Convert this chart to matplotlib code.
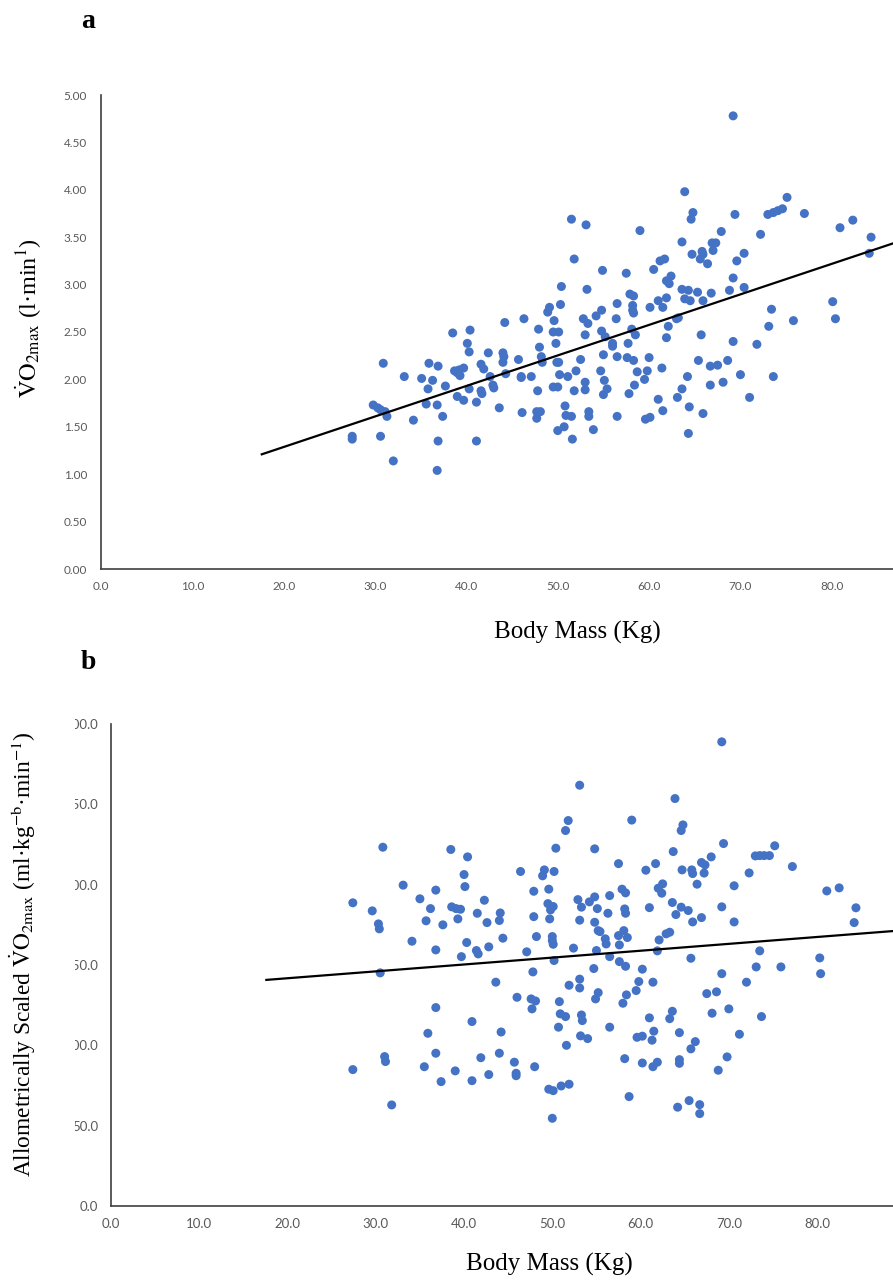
import numpy as np
import matplotlib
matplotlib.use("Agg")
import matplotlib.pyplot as plt
from matplotlib.patches import Rectangle

plt.rcParams['mathtext.fontset'] = 'stix'

# panel a: body mass (kg) vs absolute VO2max (l/min)
mass_a = [69.2, 63.9, 64.8, 64.6, 69.4, 75.1, 73.0, 73.6, 74.1, 74.6, 77.0, 80.9, 82.3, 84.3, 84.1,
          72.2, 67.9, 66.9, 67.3, 67.0, 65.8, 65.9, 65.6, 64.7, 66.4, 63.6, 70.4, 69.6, 69.2, 68.8,
          70.4, 66.8, 65.3, 65.9, 63.6, 64.3, 63.9, 64.5, 62.4, 61.9, 62.2, 61.9, 61.2, 61.7, 60.5,
          59.0, 57.5, 54.9, 53.1, 53.2, 57.9, 58.3, 56.5, 54.8, 54.2, 52.8, 53.3, 58.2, 58.2, 58.3,
          56.4, 60.1, 61.0, 61.5, 63.0, 63.2, 62.1, 65.7, 69.2, 71.8, 73.1, 73.4, 75.8, 80.1, 80.4,
          54.8, 55.2, 56.0, 56.0, 57.7, 58.1, 58.5, 53.0, 61.9,
          55.0, 56.5, 57.6, 58.3, 60.0, 61.4, 59.8, 58.7, 59.5, 58.4, 57.8, 54.7, 55.1, 53.0, 53.0,
          55.4, 55.0, 52.5, 65.4, 66.7, 67.5, 68.6, 64.2, 63.6, 63.1, 66.7, 68.1, 70.0, 71.0, 73.6,
          61.0, 61.5, 64.4, 65.9, 64.3, 59.6, 60.1, 56.5, 53.4, 53.4, 53.9,
          51.5, 51.8, 50.4, 50.3, 49.1, 48.9, 49.6, 46.3, 44.2, 47.9, 49.5, 50.1, 49.8, 40.4, 38.5,
          40.1, 48.0,
          40.3, 30.9, 33.2, 35.1, 36.3, 35.9, 36.9, 35.8, 37.7, 38.7, 39.2, 39.7, 39.3, 39.0, 41.6,
          41.9, 42.4, 44.0, 44.1, 44.0, 45.7, 48.2, 48.3, 44.3, 42.6, 42.9, 43.0, 40.3, 41.6, 41.7,
          39.0, 39.7, 41.1, 46.0, 46.0, 47.1, 47.8, 49.9, 50.1, 50.2, 51.1, 52.0, 51.8, 49.5, 50.0,
          43.6, 46.1, 47.7, 48.1, 47.7, 50.8, 50.9, 51.5, 50.7, 50.0, 51.6, 35.6, 36.8, 37.4, 34.2,
          29.8, 30.3, 30.6, 31.1, 31.3, 27.5, 27.5, 30.6, 32.0, 36.9, 36.8, 41.1]
vo2_a = [4.78, 3.98, 3.76, 3.69, 3.74, 3.92, 3.74, 3.76, 3.78, 3.80, 3.75, 3.60, 3.68, 3.50, 3.33,
         3.53, 3.56, 3.44, 3.44, 3.36, 3.35, 3.32, 3.27, 3.32, 3.22, 3.45, 3.33, 3.25, 3.07, 2.94,
         2.97, 2.91, 2.92, 2.83, 2.95, 2.94, 2.85, 2.83, 3.09, 3.04, 3.01, 2.86, 3.25, 3.27, 3.16,
         3.57, 3.12, 3.15, 3.63, 2.95, 2.90, 2.88, 2.80, 2.73, 2.67, 2.64, 2.59, 2.78, 2.73, 2.70,
         2.64, 2.76, 2.83, 2.76, 2.64, 2.65, 2.56, 2.47, 2.40, 2.37, 2.56, 2.74, 2.62, 2.82, 2.64,
         2.51, 2.45, 2.38, 2.35, 2.38, 2.53, 2.47, 2.47, 2.44,
         2.26, 2.24, 2.23, 2.20, 2.23, 2.12, 2.09, 2.08, 2.00, 1.94, 1.85, 2.09, 1.99, 1.97, 1.89,
         1.90, 1.84, 2.21, 2.20, 2.14, 2.15, 2.20, 2.03, 1.90, 1.81, 1.94, 1.97, 2.05, 1.81, 2.03,
         1.79, 1.67, 1.71, 1.64, 1.43, 1.58, 1.60, 1.61, 1.66, 1.61, 1.47,
         3.69, 3.27, 2.98, 2.79, 2.76, 2.71, 2.62, 2.64, 2.60, 2.53, 2.50, 2.50, 2.38, 2.52, 2.49,
         2.38, 2.34,
         2.29, 2.17, 2.03, 2.01, 1.99, 2.17, 2.14, 1.90, 1.93, 2.09, 2.10, 2.12, 2.04, 2.07, 2.16,
         2.11, 2.28, 2.28, 2.24, 2.18, 2.21, 2.24, 2.18, 2.06, 2.03, 1.94, 1.91, 1.90, 1.88, 1.85,
         1.82, 1.78, 1.76, 2.03, 2.02, 2.03, 1.88, 2.18, 2.18, 2.05, 2.03, 2.09, 1.88, 1.92, 1.92,
         1.70, 1.65, 1.66, 1.66, 1.59, 1.72, 1.62, 1.61, 1.50, 1.46, 1.37, 1.74, 1.73, 1.61, 1.57,
         1.73, 1.70, 1.68, 1.66, 1.61, 1.40, 1.37, 1.40, 1.14, 1.35, 1.04, 1.35]

# panel b: body mass (kg) vs allometrically scaled VO2max
mass_b = [30.8, 38.5, 40.4, 40.0, 40.1, 33.1, 36.8, 35.0, 36.2, 42.3, 27.4, 29.6, 30.3, 30.4, 38.6,
          39.1, 39.6, 39.3, 35.7, 37.6, 41.5, 42.6, 44.1, 44.0, 44.4, 34.1, 36.8, 40.3, 39.7, 41.4,
          41.6, 42.8, 30.5, 43.6, 46.0, 36.8, 40.9, 35.9, 44.2, 31.0, 31.1, 36.8, 41.9, 44.0, 45.7,
          45.9, 45.9, 27.4, 35.5, 39.0, 37.4, 40.9, 42.8, 31.8,
          53.1, 63.9, 51.8, 51.5, 59.0, 64.8, 64.6, 50.4, 54.8, 63.7, 57.5, 61.7, 60.6, 46.4, 49.1,
          48.9, 50.2, 64.7, 65.8, 65.9, 66.4, 49.6, 47.9, 62.5, 62.0, 62.4, 57.9, 58.3, 56.5, 52.9,
          53.3, 54.2, 54.8, 55.1, 49.5, 50.1, 49.8, 49.7, 47.9, 56.3, 58.2, 58.3, 61.0, 63.6, 64.6,
          64.0, 65.4, 65.9, 53.1, 54.8, 55.2, 55.4, 48.2, 50.0, 50.0, 50.1, 56.0, 56.1, 57.5, 58.1,
          58.5, 57.6, 62.9, 63.3, 62.1, 61.9, 52.4, 55.0, 47.1, 50.2, 56.5, 57.6, 58.3, 65.7, 47.8,
          54.7, 60.2, 53.1, 51.9, 53.1, 59.8, 61.4, 59.5, 55.2, 54.9, 58.4, 58.0, 47.6, 48.1, 47.7,
          50.8, 50.9, 51.5, 50.7, 53.3, 53.4, 56.5, 51.6, 53.2, 54.0, 61.0, 63.6, 63.3, 61.5, 61.3,
          59.6, 60.2, 64.4, 66.2, 65.7, 58.2, 60.2, 61.4, 61.9, 64.4, 64.4, 48.0, 49.6, 50.1, 51.0,
          51.9, 50.0, 58.7, 64.2, 65.5, 66.7, 66.7,
          69.2, 69.4, 75.2, 73.0, 73.5, 74.0, 74.6, 77.2, 68.0, 66.9, 67.3, 67.2, 72.3, 70.6, 81.1,
          82.5, 69.2, 66.9, 70.6, 84.4, 84.2, 73.5, 80.3, 80.4, 73.1, 75.9, 69.2, 72.0, 67.5, 68.6,
          68.1, 70.0, 73.7, 71.2, 69.8, 68.8]
vo2_b = [223.3, 221.9, 217.3, 206.3, 198.8, 199.7, 196.6, 191.2, 185.1, 190.3, 188.7, 183.7, 175.6,
         172.5, 186.2, 185.1, 184.7, 178.7, 177.5, 175.0, 182.2, 176.4, 182.4, 177.7, 166.7, 164.8,
         159.4, 164.0, 155.2, 159.0, 156.9, 161.3, 145.1, 139.3, 129.9, 123.5, 114.8, 107.5, 108.3,
         93.0, 89.9, 95.1, 92.3, 95.1, 89.5, 82.6, 81.1, 84.9, 86.7, 84.1, 77.4, 78.0, 81.8, 62.9,
         261.9, 253.6, 239.9, 233.7, 240.2, 237.2, 233.7, 222.7, 222.3, 220.6, 213.1, 213.1, 209.0,
         208.2, 209.2, 205.5, 208.2, 209.2, 209.2, 206.9, 200.3, 197.2, 195.9, 200.5, 197.8, 194.7,
         197.2, 194.9, 193.2, 190.7, 186.0, 189.3, 192.4, 185.1, 188.2, 186.4, 184.3, 178.7, 180.1,
         182.2, 184.9, 182.2, 185.7, 188.9, 186.0, 181.4, 183.9, 176.8, 177.9, 176.6, 171.4, 170.8,
         167.7, 167.7, 165.2, 162.9, 166.3, 163.1, 168.3, 171.4, 167.1, 162.5, 169.4, 170.4, 165.6,
         158.8, 160.5, 159.0, 158.2, 152.8, 155.2, 152.1, 149.2, 154.2, 145.7, 147.8, 147.4, 141.2,
         137.4, 135.7, 139.7, 139.3, 134.1, 132.8, 128.9, 131.4, 126.2, 128.9, 127.6, 122.7, 127.2,
         119.6, 117.9, 111.3, 118.9, 115.4, 111.3, 100.0, 105.9, 104.2, 117.1, 121.2, 116.6, 108.8,
         103.2, 105.0, 105.7, 107.9, 102.3, 97.8, 91.7, 89.0, 86.7, 89.5, 91.1, 88.8, 86.7, 72.7,
         71.8, 74.7, 75.8, 54.6, 68.1, 61.5, 65.6, 63.1, 57.5,
         288.9, 225.6, 224.2, 217.9, 218.1, 218.1, 218.1, 211.3, 217.3, 213.8, 212.3, 207.2, 207.3,
         199.3, 196.1, 198.0, 186.2, 179.5, 176.8, 185.6, 176.4, 158.8, 154.4, 144.6, 148.8, 148.8,
         144.6, 139.3, 132.2, 133.3, 120.0, 122.7, 117.9, 106.9, 92.8, 84.5]

# linear trendlines (slope, intercept) as shown on the chart
fit_a = (0.0322, 0.643)
fit_b = (0.428, 133.2)
trend_start = 17.6

xticks = np.arange(0, 90, 10)
yticks_a = np.arange(0, 5.01, 0.5)
yticks_b = np.arange(0, 301, 50)

blue = '#4472C4'
tick_col = '#595959'
serif = ['Liberation Serif', 'DejaVu Serif']

W, H = 893, 1282
fig = plt.figure(figsize=(W / 100, H / 100), dpi=100)


def px_axes(left, top, right, bottom):
    return fig.add_axes([left / W, 1 - bottom / H, (right - left) / W, (bottom - top) / H])


def style(ax, fs, ypad):
    for s in ['top', 'right']:
        ax.spines[s].set_visible(False)
    for s in ['left', 'bottom']:
        ax.spines[s].set_color('#404040')
        ax.spines[s].set_linewidth(1.2)
    ax.tick_params(length=0, labelsize=fs, labelcolor=tick_col, pad=9)
    ax.tick_params(axis='y', pad=ypad)
    for lab in ax.get_xticklabels() + ax.get_yticklabels():
        lab.set_fontfamily('Lato')


# ---- panel a
ax1 = px_axes(101, 95, 893, 569)
ax1.scatter(mass_a, vo2_a, s=42, color=blue, edgecolors='none', zorder=3)
xmax_a = 86.7
xs = np.array([trend_start, xmax_a])
ax1.plot(xs, fit_a[0] * xs + fit_a[1], color='black', lw=1.6, zorder=4)
ax1.set_xlim(0, xmax_a)
ax1.set_ylim(0, 5)
ax1.set_xticks(xticks)
ax1.set_xticklabels([f'{v:.1f}' for v in xticks])
ax1.set_yticks(yticks_a)
ax1.set_yticklabels([f'{v:.2f}' for v in yticks_a])
style(ax1, 8.5, 10)

# ---- panel b
ax2 = px_axes(111, 724, 893, 1206)
ax2.scatter(mass_b, vo2_b, s=42, color=blue, edgecolors='none', zorder=3)
xmax_b = 88.6
xs = np.array([trend_start, xmax_b])
ax2.plot(xs, fit_b[0] * xs + fit_b[1], color='black', lw=1.6, zorder=4)
ax2.set_xlim(0, xmax_b)
ax2.set_ylim(0, 300)
ax2.set_xticks(xticks)
ax2.set_xticklabels([f'{v:.1f}' for v in xticks])
ax2.set_yticks(yticks_b)
ax2.set_yticklabels([f'{v:.1f}' for v in yticks_b])
style(ax2, 9.5, 9)

# the y title box hides the left part of panel b's tick labels
fig.add_artist(Rectangle((0, 1 - 1196 / H), 75 / W, 500 / H, transform=fig.transFigure,
                         facecolor='white', edgecolor='none', zorder=5))

fig.text(577 / W, 1 - 632 / H, 'Body Mass (Kg)', ha='center', va='center',
         fontsize=18, family=serif)
fig.text(549 / W, 1 - 1264 / H, 'Body Mass (Kg)', ha='center', va='center',
         fontsize=18, family=serif)
fig.text(29 / W, 1 - 318 / H, r'$\dot{\mathrm{V}}\mathrm{O}_{\mathrm{2max}}$ (l·min$^{1}$)',
         rotation=90, ha='center', va='center', fontsize=17.5, family=serif, zorder=6)
fig.text(23 / W, 1 - 954 / H,
         r'Allometrically Scaled $\dot{\mathrm{V}}\mathrm{O}_{\mathrm{2max}}$ (ml·kg$^{\mathrm{-b}}$·min$^{\mathrm{-1}}$)',
         rotation=90, ha='center', va='center', fontsize=16.8, family=serif, zorder=6)
fig.text(88 / W, 1 - 22 / H, 'a', ha='center', va='center', fontsize=20,
         fontweight='bold', family=serif)
fig.text(88 / W, 1 - 663 / H, 'b', ha='center', va='center', fontsize=20,
         fontweight='bold', family=serif)

fig.savefig('out.png', dpi=100)
